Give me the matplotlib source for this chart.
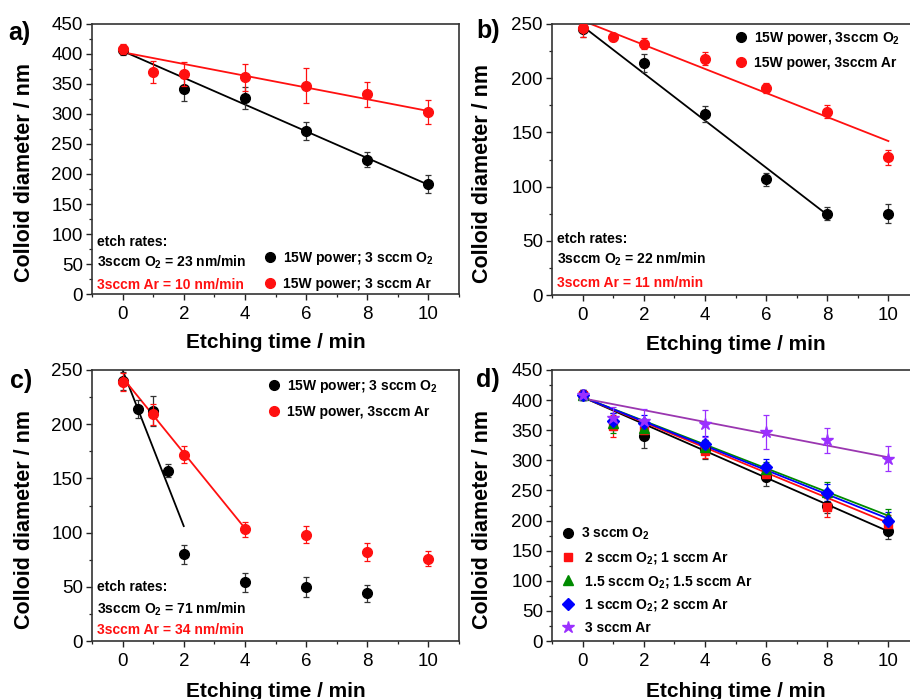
import matplotlib
matplotlib.use("Agg")
import matplotlib.pyplot as plt
from matplotlib.ticker import MultipleLocator

plt.rcParams['font.family'] = ['Liberation Sans', 'DejaVu Sans']
plt.rcParams['mathtext.fontset'] = 'custom'
plt.rcParams['mathtext.rm'] = 'Liberation Sans:bold'
plt.rcParams['mathtext.bf'] = 'Liberation Sans:bold'
plt.rcParams['mathtext.default'] = 'regular'

RED = '#ff1010'
GREEN = '#008a00'
BLUE = '#0000ff'
PURPLE_M = '#9b30ff'
PURPLE_L = '#9a36b0'

# ---------------- panel a ----------------
t_a_o2 = [0, 2, 4, 6, 8, 10]
d_a_o2 = [407, 341, 327, 271, 224, 183]
e_a_o2 = [8, 20, 18, 15, 13, 15]
t_a_ar = [0, 1, 2, 4, 6, 8, 10]
d_a_ar = [408, 370, 366, 361, 347, 333, 303]
e_a_ar = [8, 18, 20, 22, 29, 21, 20]
fit_a_o2_t = [0, 10]
fit_a_o2_d = [405, 182]
fit_a_ar_t = [0, 10]
fit_a_ar_d = [403, 305]

# ---------------- panel b ----------------
t_b_o2 = [0, 2, 4, 6, 8, 10]
d_b_o2 = [245, 214, 167, 107, 75, 75]
e_b_o2 = [7, 8, 7, 6, 6, 9]
t_b_ar = [0, 1, 2, 4, 6, 8, 10]
d_b_ar = [246, 238, 232, 218, 191, 169, 127]
e_b_ar = [8, 4, 5, 6, 5, 6, 7]
fit_b_o2_t = [0, 8]
fit_b_o2_d = [248, 74]
fit_b_ar_t = [0, 10]
fit_b_ar_d = [253, 142]

# ---------------- panel c ----------------
t_c_o2 = [0, 0.5, 1, 1.5, 2, 4, 6, 8]
d_c_o2 = [240, 214, 212, 157, 80, 54, 50, 44]
e_c_o2 = [8, 8, 14, 6, 9, 9, 9, 8]
t_c_ar = [0, 1, 2, 4, 6, 8, 10]
d_c_ar = [239, 209, 172, 103, 98, 82, 76]
e_c_ar = [8, 10, 8, 7, 8, 8, 7]
fit_c_o2_t = [0, 2]
fit_c_o2_d = [250, 106]
fit_c_ar_t = [0, 4]
fit_c_ar_d = [243, 104]

# ---------------- panel d ----------------
t_d_o2 = [0, 2, 4, 6, 8, 10]
d_d_o2 = [408, 341, 318, 272, 225, 183]
e_d_o2 = [8, 20, 15, 15, 13, 14]
t_d_mix = [0, 1, 2, 4, 6, 8, 10]
d_d_21 = [408, 357, 350, 316, 278, 222, 195]
e_d_21 = [8, 18, 15, 12, 12, 16, 14]
d_d_1515 = [408, 362, 353, 322, 286, 248, 206]
e_d_1515 = [8, 16, 14, 12, 12, 16, 14]
d_d_12 = [408, 365, 362, 327, 289, 246, 200]
e_d_12 = [8, 14, 14, 14, 14, 14, 14]
d_d_ar = [408, 370, 366, 361, 347, 333, 303]
e_d_ar = [8, 18, 20, 22, 29, 21, 20]
fit_d_t = [0, 10]
fit_d_o2 = [405, 182]
fit_d_21 = [405, 196]
fit_d_1515 = [405, 208]
fit_d_12 = [405, 203]
fit_d_ar = [403, 305]

xticks = [0, 2, 4, 6, 8, 10]

fig = plt.figure(figsize=(9.10, 6.99), dpi=100)
W, H = 910.0, 699.0


def make_ax(x0, ytop, ybot, x1=919):
    return fig.add_axes([x0 / W, 1 - ybot / H, (x1 - x0) / W, (ybot - ytop) / H])


def style(ax, ymax, ymajor, yminor, ylab_xy, xlab_y):
    ax.set_xlim(-1, 11)
    ax.set_ylim(0, ymax)
    ax.set_xticks(xticks)
    ax.xaxis.set_minor_locator(MultipleLocator(1))
    ax.yaxis.set_major_locator(MultipleLocator(ymajor))
    ax.yaxis.set_minor_locator(MultipleLocator(yminor))
    ax.tick_params(which='major', direction='out', length=4.5, width=1.0,
                   labelsize=13.5, color='#222222')
    ax.tick_params(axis='x', which='major', pad=4)
    ax.tick_params(axis='y', which='major', pad=2)
    ax.tick_params(which='minor', direction='out', length=2.5, width=0.9,
                   color='#222222')
    for s in ax.spines.values():
        s.set_linewidth(1.2)
        s.set_color('#333333')
    ax.set_ylabel('Colloid diameter / nm', fontsize=15.5, fontweight='bold')
    ax.set_xlabel('Etching time / min', fontsize=15, fontweight='bold')
    ax.yaxis.set_label_coords(ylab_xy[0], ylab_xy[1])
    ax.xaxis.set_label_coords(0.50, xlab_y)


def legend(ax, conts, anchor, spacing):
    ax.legend(handles=[c[0] for c in conts], labels=[c.get_label() for c in conts],
              loc='upper left', bbox_to_anchor=anchor, frameon=False,
              prop={'weight': 'bold', 'size': 10}, handlelength=1.0,
              handletextpad=0.45, borderpad=0, labelspacing=spacing)


ekw = dict(capsize=2.2, elinewidth=0.9, capthick=0.9, linestyle='none')
LW = 1.3

# ---------- a ----------
ax = make_ax(92, 24, 294, 459)
ax.plot(fit_a_o2_t, fit_a_o2_d, color='black', lw=LW, zorder=2)
ax.plot(fit_a_ar_t, fit_a_ar_d, color=RED, lw=LW, zorder=2)
c1 = ax.errorbar(t_a_o2, d_a_o2, yerr=e_a_o2, marker='o', ms=7, color='black',
                 ecolor='#333333', label=r'15W power; 3 sccm O$_2$', zorder=3, **ekw)
c2 = ax.errorbar(t_a_ar, d_a_ar, yerr=e_a_ar, marker='o', ms=7, color=RED,
                 ecolor=RED, label='15W power; 3 sccm Ar', zorder=4, **ekw)
style(ax, 450, 50, 25, (-0.155, 0.45), -0.146)
legend(ax, [c1, c2], (0.446, 0.19), 0.75)
ax.text(0.014, 0.193, 'etch rates:', transform=ax.transAxes, fontsize=10,
        fontweight='bold', va='center')
ax.text(0.014, 0.118, r'3sccm O$_2$ = 23 nm/min', transform=ax.transAxes,
        fontsize=10, fontweight='bold', va='center')
ax.text(0.014, 0.033, '3sccm Ar = 10 nm/min', transform=ax.transAxes,
        fontsize=10, fontweight='bold', va='center', color=RED)

# ---------- b ----------
ax = make_ax(552, 24, 295)
ax.plot(fit_b_o2_t, fit_b_o2_d, color='black', lw=LW, zorder=2)
ax.plot(fit_b_ar_t, fit_b_ar_d, color=RED, lw=LW, zorder=2)
c1 = ax.errorbar(t_b_o2, d_b_o2, yerr=e_b_o2, marker='o', ms=7, color='black',
                 ecolor='#333333', label=r'15W power, 3sccm O$_2$', zorder=3, **ekw)
c2 = ax.errorbar(t_b_ar, d_b_ar, yerr=e_b_ar, marker='o', ms=7, color=RED,
                 ecolor=RED, label='15W power, 3sccm Ar', zorder=4, **ekw)
style(ax, 250, 50, 25, (-0.161, 0.45), -0.146)
legend(ax, [c1, c2], (0.477, 1.005), 0.7)
ax.text(0.014, 0.207, 'etch rates:', transform=ax.transAxes, fontsize=10,
        fontweight='bold', va='center')
ax.text(0.014, 0.130, r'3sccm O$_2$ = 22 nm/min', transform=ax.transAxes,
        fontsize=10, fontweight='bold', va='center')
ax.text(0.014, 0.044, '3sccm Ar = 11 nm/min', transform=ax.transAxes,
        fontsize=10, fontweight='bold', va='center', color=RED)

# ---------- c ----------
ax = make_ax(92, 370, 641, 459)
ax.plot(fit_c_o2_t, fit_c_o2_d, color='black', lw=LW, zorder=2)
ax.plot(fit_c_ar_t, fit_c_ar_d, color=RED, lw=LW, zorder=2)
c1 = ax.errorbar(t_c_o2, d_c_o2, yerr=e_c_o2, marker='o', ms=7, color='black',
                 ecolor='#333333', label=r'15W power; 3 sccm O$_2$', zorder=3, **ekw)
c2 = ax.errorbar(t_c_ar, d_c_ar, yerr=e_c_ar, marker='o', ms=7, color=RED,
                 ecolor=RED, label='15W power, 3sccm Ar', zorder=4, **ekw)
style(ax, 250, 50, 25, (-0.155, 0.45), -0.151)
legend(ax, [c1, c2], (0.458, 0.995), 0.7)
ax.text(0.014, 0.199, 'etch rates:', transform=ax.transAxes, fontsize=10,
        fontweight='bold', va='center')
ax.text(0.014, 0.118, r'3sccm O$_2$ = 71 nm/min', transform=ax.transAxes,
        fontsize=10, fontweight='bold', va='center')
ax.text(0.014, 0.041, '3sccm Ar = 34 nm/min', transform=ax.transAxes,
        fontsize=10, fontweight='bold', va='center', color=RED)

# ---------- d ----------
ax = make_ax(552, 370, 641)
ax.plot(fit_d_t, fit_d_o2, color='black', lw=LW, zorder=2)
ax.plot(fit_d_t, fit_d_21, color=RED, lw=LW, zorder=2)
ax.plot(fit_d_t, fit_d_1515, color=GREEN, lw=LW, zorder=2)
ax.plot(fit_d_t, fit_d_12, color=BLUE, lw=LW, zorder=2)
ax.plot(fit_d_t, fit_d_ar, color=PURPLE_L, lw=LW, zorder=2)
c1 = ax.errorbar(t_d_o2, d_d_o2, yerr=e_d_o2, marker='o', ms=7, color='black',
                 ecolor='#333333', label=r'3 sccm O$_2$', zorder=3, **ekw)
c2 = ax.errorbar(t_d_mix, d_d_21, yerr=e_d_21, marker='s', ms=6, color=RED,
                 ecolor=RED, label=r' 2 sccm O$_2$; 1 sccm Ar', zorder=3, **ekw)
c3 = ax.errorbar(t_d_mix, d_d_1515, yerr=e_d_1515, marker='^', ms=7, color=GREEN,
                 ecolor=GREEN, label=r' 1.5 sccm O$_2$; 1.5 sccm Ar', zorder=3, **ekw)
c4 = ax.errorbar(t_d_mix, d_d_12, yerr=e_d_12, marker='D', ms=6.5, color=BLUE,
                 ecolor=BLUE, label=r' 1 sccm O$_2$; 2 sccm Ar', zorder=3, **ekw)
c5 = ax.errorbar(t_d_mix, d_d_ar, yerr=e_d_ar, marker='*', ms=9, color=PURPLE_M,
                 ecolor=PURPLE_M, label=' 3 sccm Ar', zorder=3, **ekw)
style(ax, 450, 50, 25, (-0.161, 0.45), -0.151)
legend(ax, [c1, c2, c3, c4, c5], (0.005, 0.45), 0.55)

# panel letters
fig.text(8 / W, 1 - 33 / H, 'a)', fontsize=18, fontweight='bold', va='center')
fig.text(476 / W, 1 - 31 / H, 'b)', fontsize=18, fontweight='bold', va='center')
fig.text(10 / W, 1 - 381 / H, 'c)', fontsize=18, fontweight='bold', va='center')
fig.text(476 / W, 1 - 380 / H, 'd)', fontsize=18, fontweight='bold', va='center')

fig.savefig('out.png', dpi=100)
